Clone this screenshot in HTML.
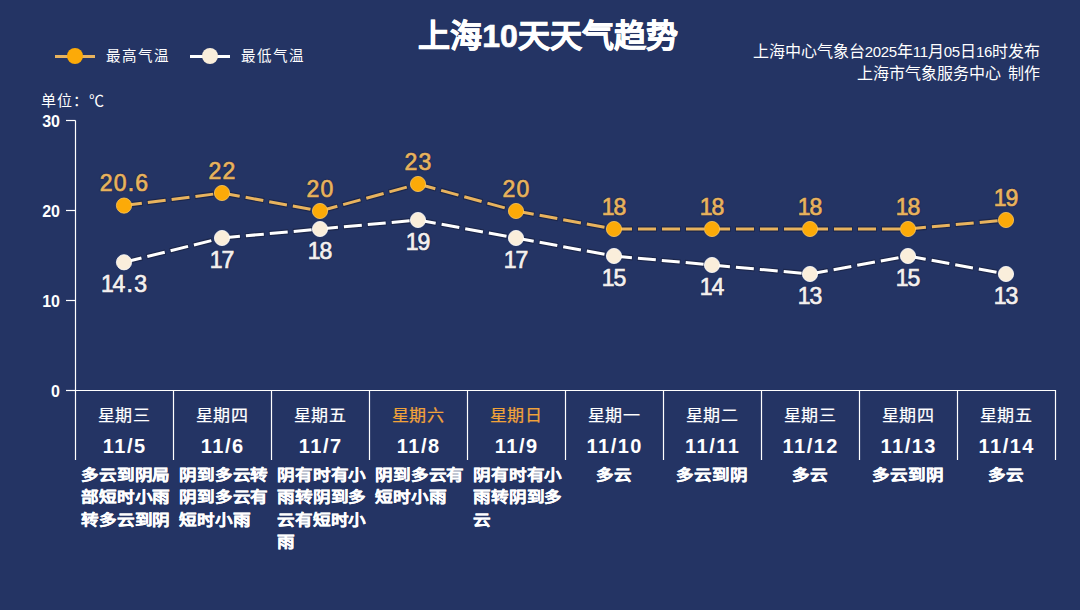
<!DOCTYPE html>
<html lang="zh-CN"><head><meta charset="utf-8">
<style>
*{margin:0;padding:0;box-sizing:border-box}
html,body{width:1080px;height:610px;overflow:hidden;background:#243464}
body{position:relative;font-family:"Liberation Sans",sans-serif;color:#fff}
svg{position:absolute;left:0;top:0}
.t{position:absolute;white-space:nowrap}
#title{left:0;width:1096px;text-align:center;top:15.5px;font-size:32px;font-weight:bold;-webkit-text-stroke:0.7px #fff;line-height:40px}
.lg{position:absolute;top:45.5px;font-size:14.5px;line-height:20px;letter-spacing:2.1px}
.rt{position:absolute;right:40px;font-size:16px;line-height:20px;text-align:right}
.rt b{font-weight:normal;font-size:15px;letter-spacing:-0.3px}
#unit{position:absolute;left:41px;top:90.5px;font-size:15px;line-height:20px;font-weight:300;letter-spacing:1px}
.yl{position:absolute;left:30px;width:30px;text-align:right;font-size:16px;font-weight:bold;line-height:20px;margin-top:1.5px}
.vl{position:absolute;width:80px;text-align:center;font-size:23px;line-height:30px;letter-spacing:1.2px;text-indent:1.2px;-webkit-text-stroke:0.7px currentColor;text-shadow:0 0 1.5px #141a30,0 0 1px #141a30}
.one{letter-spacing:-1.2px}
.hi{color:#e8b35e}
.lo{color:#f4f0f0}
.day{position:absolute;top:405.3px;width:98px;text-align:center;font-size:17px;line-height:24px;letter-spacing:0.8px;text-indent:0.8px;-webkit-text-stroke:0.25px currentColor;transform:scaleY(0.96);transform-origin:0 0}
.wk{color:#f1a33a}
.date{position:absolute;top:433px;width:98px;text-align:center;font-size:20px;font-weight:bold;line-height:26px;letter-spacing:1.5px;text-indent:1.5px}
.desc{position:absolute;top:463.4px;font-size:17.6px;font-weight:bold;-webkit-text-stroke:0.3px #fff;line-height:26.1px;letter-spacing:-0.15px;white-space:nowrap;transform:scaleY(0.87);transform-origin:0 0}
.desc.c{width:98px;text-align:center}
.desc.m{width:92px;text-align:left}
</style></head><body>
<svg width="1080" height="610" viewBox="0 0 1080 610">
<line x1="75.5" y1="120.5" x2="75.5" y2="460" stroke="#fff" stroke-width="1.2"/>
<line x1="66" y1="120.5" x2="75.5" y2="120.5" stroke="#fff" stroke-width="1.2"/>
<line x1="66" y1="210.5" x2="75.5" y2="210.5" stroke="#fff" stroke-width="1.2"/>
<line x1="66" y1="300.5" x2="75.5" y2="300.5" stroke="#fff" stroke-width="1.2"/>
<line x1="66" y1="390.5" x2="75.5" y2="390.5" stroke="#fff" stroke-width="1.2"/>
<line x1="75" y1="390.5" x2="1055" y2="390.5" stroke="#fff" stroke-width="1.2"/>
<line x1="173.5" y1="390" x2="173.5" y2="460" stroke="#fff" stroke-width="1.2"/>
<line x1="271.5" y1="390" x2="271.5" y2="460" stroke="#fff" stroke-width="1.2"/>
<line x1="369.5" y1="390" x2="369.5" y2="460" stroke="#fff" stroke-width="1.2"/>
<line x1="467.5" y1="390" x2="467.5" y2="460" stroke="#fff" stroke-width="1.2"/>
<line x1="565.5" y1="390" x2="565.5" y2="460" stroke="#fff" stroke-width="1.2"/>
<line x1="663.5" y1="390" x2="663.5" y2="460" stroke="#fff" stroke-width="1.2"/>
<line x1="761.5" y1="390" x2="761.5" y2="460" stroke="#fff" stroke-width="1.2"/>
<line x1="859.5" y1="390" x2="859.5" y2="460" stroke="#fff" stroke-width="1.2"/>
<line x1="957.5" y1="390" x2="957.5" y2="460" stroke="#fff" stroke-width="1.2"/>
<line x1="1055.5" y1="390" x2="1055.5" y2="460" stroke="#fff" stroke-width="1.2"/>
<g stroke="#161c34" stroke-opacity="0.55" stroke-width="5.4" stroke-dasharray="19.4 4.6" stroke-dashoffset="0.7"><line x1="124" y1="205.60" x2="222" y2="193.00"/><line x1="222" y1="193.00" x2="320" y2="211.00"/><line x1="320" y1="211.00" x2="418" y2="184.00"/><line x1="418" y1="184.00" x2="516" y2="211.00"/><line x1="516" y1="211.00" x2="614" y2="229.00"/><line x1="614" y1="229.00" x2="712" y2="229.00"/><line x1="712" y1="229.00" x2="810" y2="229.00"/><line x1="810" y1="229.00" x2="908" y2="229.00"/><line x1="908" y1="229.00" x2="1006" y2="220.00"/></g>
<g stroke="#e8b35e" stroke-width="3" stroke-dasharray="18 6"><line x1="124" y1="205.60" x2="222" y2="193.00"/><line x1="222" y1="193.00" x2="320" y2="211.00"/><line x1="320" y1="211.00" x2="418" y2="184.00"/><line x1="418" y1="184.00" x2="516" y2="211.00"/><line x1="516" y1="211.00" x2="614" y2="229.00"/><line x1="614" y1="229.00" x2="712" y2="229.00"/><line x1="712" y1="229.00" x2="810" y2="229.00"/><line x1="810" y1="229.00" x2="908" y2="229.00"/><line x1="908" y1="229.00" x2="1006" y2="220.00"/></g>
<g stroke="#161c34" stroke-opacity="0.55" stroke-width="5.4" stroke-dasharray="19.4 4.6" stroke-dashoffset="0.7"><line x1="124" y1="262.30" x2="222" y2="238.00"/><line x1="222" y1="238.00" x2="320" y2="229.00"/><line x1="320" y1="229.00" x2="418" y2="220.00"/><line x1="418" y1="220.00" x2="516" y2="238.00"/><line x1="516" y1="238.00" x2="614" y2="256.00"/><line x1="614" y1="256.00" x2="712" y2="265.00"/><line x1="712" y1="265.00" x2="810" y2="274.00"/><line x1="810" y1="274.00" x2="908" y2="256.00"/><line x1="908" y1="256.00" x2="1006" y2="274.00"/></g>
<g stroke="#ffffff" stroke-width="3" stroke-dasharray="18 6"><line x1="124" y1="262.30" x2="222" y2="238.00"/><line x1="222" y1="238.00" x2="320" y2="229.00"/><line x1="320" y1="229.00" x2="418" y2="220.00"/><line x1="418" y1="220.00" x2="516" y2="238.00"/><line x1="516" y1="238.00" x2="614" y2="256.00"/><line x1="614" y1="256.00" x2="712" y2="265.00"/><line x1="712" y1="265.00" x2="810" y2="274.00"/><line x1="810" y1="274.00" x2="908" y2="256.00"/><line x1="908" y1="256.00" x2="1006" y2="274.00"/></g>
<circle cx="124" cy="205.6" r="7.6" fill="#fcaa08" stroke="#ffc85a" stroke-width="0.8"/>
<circle cx="222" cy="193.0" r="7.6" fill="#fcaa08" stroke="#ffc85a" stroke-width="0.8"/>
<circle cx="320" cy="211.0" r="7.6" fill="#fcaa08" stroke="#ffc85a" stroke-width="0.8"/>
<circle cx="418" cy="184.0" r="7.6" fill="#fcaa08" stroke="#ffc85a" stroke-width="0.8"/>
<circle cx="516" cy="211.0" r="7.6" fill="#fcaa08" stroke="#ffc85a" stroke-width="0.8"/>
<circle cx="614" cy="229.0" r="7.6" fill="#fcaa08" stroke="#ffc85a" stroke-width="0.8"/>
<circle cx="712" cy="229.0" r="7.6" fill="#fcaa08" stroke="#ffc85a" stroke-width="0.8"/>
<circle cx="810" cy="229.0" r="7.6" fill="#fcaa08" stroke="#ffc85a" stroke-width="0.8"/>
<circle cx="908" cy="229.0" r="7.6" fill="#fcaa08" stroke="#ffc85a" stroke-width="0.8"/>
<circle cx="1006" cy="220.0" r="7.6" fill="#fcaa08" stroke="#ffc85a" stroke-width="0.8"/>
<circle cx="124" cy="262.3" r="7.6" fill="#faeedb" stroke="#ffffff" stroke-width="0.8"/>
<circle cx="222" cy="238.0" r="7.6" fill="#faeedb" stroke="#ffffff" stroke-width="0.8"/>
<circle cx="320" cy="229.0" r="7.6" fill="#faeedb" stroke="#ffffff" stroke-width="0.8"/>
<circle cx="418" cy="220.0" r="7.6" fill="#faeedb" stroke="#ffffff" stroke-width="0.8"/>
<circle cx="516" cy="238.0" r="7.6" fill="#faeedb" stroke="#ffffff" stroke-width="0.8"/>
<circle cx="614" cy="256.0" r="7.6" fill="#faeedb" stroke="#ffffff" stroke-width="0.8"/>
<circle cx="712" cy="265.0" r="7.6" fill="#faeedb" stroke="#ffffff" stroke-width="0.8"/>
<circle cx="810" cy="274.0" r="7.6" fill="#faeedb" stroke="#ffffff" stroke-width="0.8"/>
<circle cx="908" cy="256.0" r="7.6" fill="#faeedb" stroke="#ffffff" stroke-width="0.8"/>
<circle cx="1006" cy="274.0" r="7.6" fill="#faeedb" stroke="#ffffff" stroke-width="0.8"/>
<line x1="55" y1="56.5" x2="95" y2="56.5" stroke="#e8b35e" stroke-width="3"/>
<circle cx="75" cy="56" r="8" fill="#fcaa08"/>
<line x1="190" y1="56.5" x2="230" y2="56.5" stroke="#fff" stroke-width="3"/>
<circle cx="210" cy="56" r="8" fill="#faeedb"/>
</svg>
<div id="title" class="t">上海10天天气趋势</div>
<div class="lg" style="left:106px">最高气温</div>
<div class="lg" style="left:241px">最低气温</div>
<div class="rt" style="top:42px">上海中心气象台<b>2025</b>年<b>11</b>月<b>05</b>日<b>16</b>时发布</div>
<div class="rt" style="top:64px;word-spacing:2.5px">上海市气象服务中心 制作</div>
<div id="unit">单位：℃</div>
<div class="yl" style="top:110px">30</div>
<div class="yl" style="top:200px">20</div>
<div class="yl" style="top:290px">10</div>
<div class="yl" style="top:380px">0</div>
<div class="vl hi" style="left:84px;top:168.1px">20.6</div>
<div class="vl hi" style="left:182px;top:155.5px">22</div>
<div class="vl hi" style="left:280px;top:173.5px">20</div>
<div class="vl hi" style="left:378px;top:146.5px">23</div>
<div class="vl hi" style="left:476px;top:173.5px">20</div>
<div class="vl hi" style="left:574px;top:191.5px"><span class="one">1</span>8</div>
<div class="vl hi" style="left:672px;top:191.5px"><span class="one">1</span>8</div>
<div class="vl hi" style="left:770px;top:191.5px"><span class="one">1</span>8</div>
<div class="vl hi" style="left:868px;top:191.5px"><span class="one">1</span>8</div>
<div class="vl hi" style="left:966px;top:182.5px"><span class="one">1</span>9</div>
<div class="vl lo" style="left:84px;top:269.3px"><span class="one">1</span>4.3</div>
<div class="vl lo" style="left:182px;top:245.0px"><span class="one">1</span>7</div>
<div class="vl lo" style="left:280px;top:236.0px"><span class="one">1</span>8</div>
<div class="vl lo" style="left:378px;top:227.0px"><span class="one">1</span>9</div>
<div class="vl lo" style="left:476px;top:245.0px"><span class="one">1</span>7</div>
<div class="vl lo" style="left:574px;top:263.0px"><span class="one">1</span>5</div>
<div class="vl lo" style="left:672px;top:272.0px"><span class="one">1</span>4</div>
<div class="vl lo" style="left:770px;top:281.0px"><span class="one">1</span>3</div>
<div class="vl lo" style="left:868px;top:263.0px"><span class="one">1</span>5</div>
<div class="vl lo" style="left:966px;top:281.0px"><span class="one">1</span>3</div>
<div class="day" style="left:75px">星期三</div>
<div class="date" style="left:75px">11/5</div>
<div class="desc m" style="left:81px">多云到阴局<br>部短时小雨<br>转多云到阴</div>
<div class="day" style="left:173px">星期四</div>
<div class="date" style="left:173px">11/6</div>
<div class="desc m" style="left:179px">阴到多云转<br>阴到多云有<br>短时小雨</div>
<div class="day" style="left:271px">星期五</div>
<div class="date" style="left:271px">11/7</div>
<div class="desc m" style="left:277px">阴有时有小<br>雨转阴到多<br>云有短时小<br>雨</div>
<div class="day wk" style="left:369px">星期六</div>
<div class="date" style="left:369px">11/8</div>
<div class="desc m" style="left:375px">阴到多云有<br>短时小雨</div>
<div class="day wk" style="left:467px">星期日</div>
<div class="date" style="left:467px">11/9</div>
<div class="desc m" style="left:473px">阴有时有小<br>雨转阴到多<br>云</div>
<div class="day" style="left:565px">星期一</div>
<div class="date" style="left:565px">11/10</div>
<div class="desc c" style="left:565px">多云</div>
<div class="day" style="left:663px">星期二</div>
<div class="date" style="left:663px">11/11</div>
<div class="desc c" style="left:663px">多云到阴</div>
<div class="day" style="left:761px">星期三</div>
<div class="date" style="left:761px">11/12</div>
<div class="desc c" style="left:761px">多云</div>
<div class="day" style="left:859px">星期四</div>
<div class="date" style="left:859px">11/13</div>
<div class="desc c" style="left:859px">多云到阴</div>
<div class="day" style="left:957px">星期五</div>
<div class="date" style="left:957px">11/14</div>
<div class="desc c" style="left:957px">多云</div>
</body></html>
